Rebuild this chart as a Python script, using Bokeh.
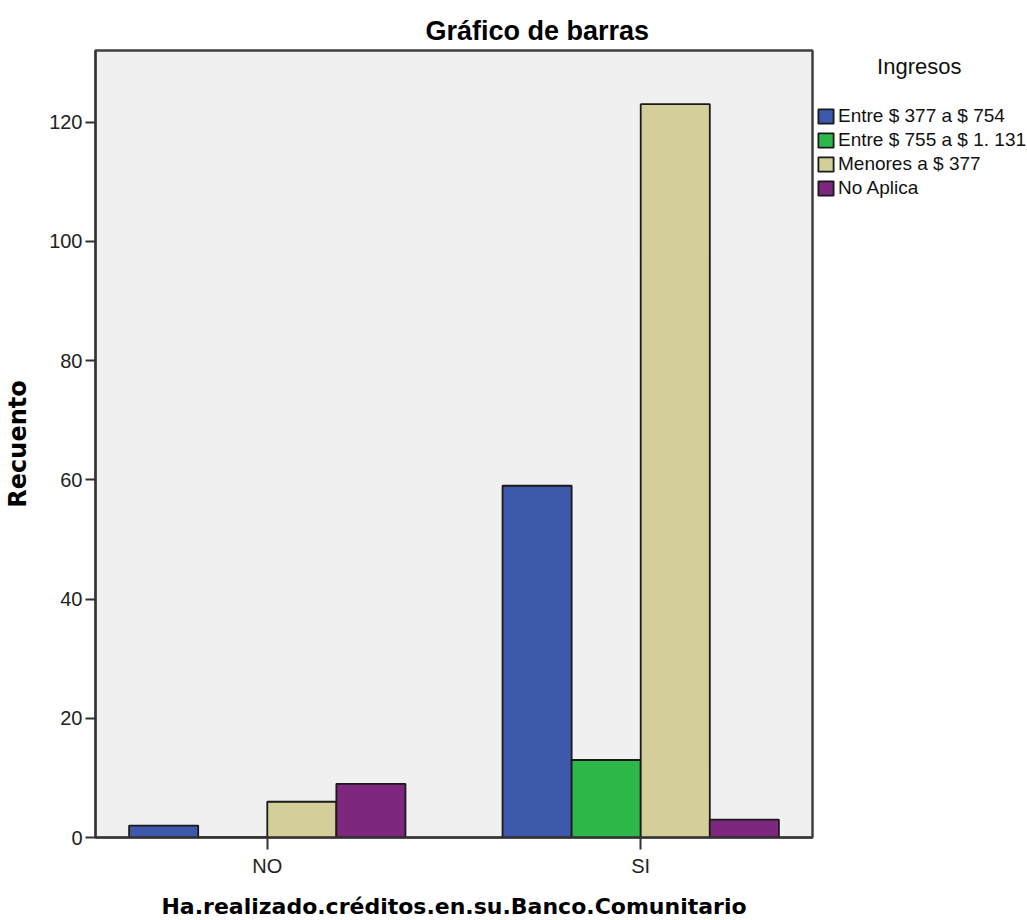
from bokeh.plotting import figure
from bokeh.models import FactorRange, Range1d, Legend, LegendItem, FixedTicker, ColumnDataSource
from bokeh.transform import dodge
from bokeh.embed import file_html
from bokeh.resources import INLINE

# ---- data ----
groups = ["NO", "SI"]
series_names = ["Entre $ 377 a $ 754", "Entre $ 755 a $ 1. 131", "Menores a $ 377", "No Aplica"]
entre_377_754 = [2, 59]
entre_755_1131 = [0, 13]
menores_377 = [6, 123]
no_aplica = [9, 3]
y_ticks = [0, 20, 40, 60, 80, 100, 120]

title_text = "Gráfico de barras"
x_label = "Ha.realizado.créditos.en.su.Banco.Comunitario"
y_label = "Recuento"
legend_title = "Ingresos"

# ---- styles ----
colors = ["#3e58ac", "#2fb84a", "#d4cf98", "#7d287e"]
bar_w = 0.185
offsets = [-1.5 * bar_w, -0.5 * bar_w, 0.5 * bar_w, 1.5 * bar_w]

src = ColumnDataSource(dict(g=groups, s0=entre_377_754, s1=entre_755_1131,
                            s2=menores_377, s3=no_aplica))

p = figure(frame_width=717, frame_height=787, output_backend="svg", toolbar_location=None,
           x_range=FactorRange(factors=groups, range_padding=-0.04),
           y_range=Range1d(0, 132))
p.min_border_left = 95
p.min_border_right = 215
p.min_border_top = 50
p.min_border_bottom = 83

p.background_fill_color = "#f0f0f0"
p.border_fill_color = "white"
p.outline_line_color = "#404040"
p.outline_line_width = 2.5
p.xgrid.visible = False
p.ygrid.visible = False

renderers = []
for i, col in enumerate(["s0", "s1", "s2", "s3"]):
    r = p.vbar(x=dodge("g", offsets[i], range=p.x_range), top=col, width=bar_w, bottom=0,
               source=src, fill_color=colors[i], line_color="#1a1a1a", line_width=1.8)
    renderers.append(r)

legend = Legend(items=[LegendItem(label=series_names[i], renderers=[renderers[i]]) for i in range(4)],
                location="top_left", padding=0, margin=4, spacing=2,
                glyph_width=19, glyph_height=18, label_height=18, label_standoff=3,
                label_text_font="Liberation Sans", label_text_font_size="19px",
                label_text_color="#111111",
                title=" " * 10 + legend_title, title_standoff=25,
                title_text_font="Liberation Sans", title_text_font_size="22px",
                title_text_font_style="normal", title_text_color="#111111",
                background_fill_alpha=0, border_line_alpha=0)
p.add_layout(legend, "right")

# title
p.title.text = title_text
p.title.align = "left"
p.title.offset = 330
p.title.text_font = "Liberation Sans"
p.title.text_font_style = "bold"
p.title.text_font_size = "27px"
p.title.text_color = "#000000"
p.title.standoff = 10

# axes
for ax in (p.xaxis[0], p.yaxis[0]):
    ax.axis_line_color = "#333333"
    ax.axis_line_width = 2
    ax.major_tick_line_color = "#333333"
    ax.major_tick_line_width = 2
    ax.major_tick_in = 0
    ax.minor_tick_line_color = None
    ax.major_label_text_font = "Liberation Sans"
    ax.major_label_text_font_size = "20px"
    ax.major_label_text_color = "#222222"
    ax.axis_label_text_font = "DejaVu Sans"
    ax.axis_label_text_font_style = "bold"
    ax.axis_label_text_color = "#000000"

p.yaxis.ticker = FixedTicker(ticks=y_ticks)
p.yaxis.major_tick_out = 10
p.yaxis.major_label_standoff = 3
p.yaxis.axis_label = y_label
p.yaxis.axis_label_standoff = 14
p.yaxis.axis_label_text_font_size = "24px"

p.xaxis.major_tick_out = 12
p.xaxis.major_label_standoff = 5
p.xaxis.axis_label = x_label
p.xaxis.axis_label_standoff = 14
p.xaxis.axis_label_text_font_size = "22px"

open("out.html", "w").write(file_html(p, INLINE))
